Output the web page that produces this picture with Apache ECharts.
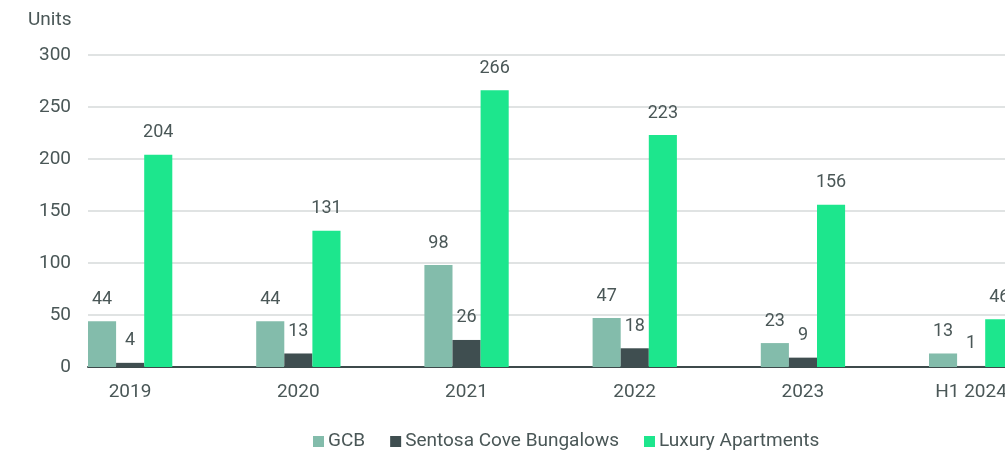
<!DOCTYPE html>
<html>
<head>
<meta charset="utf-8">
<script src="https://cdn.jsdelivr.net/npm/echarts@6/dist/echarts.min.js"></script>
<style>
html,body{margin:0;padding:0;background:#fff;}
#chart{width:1005px;height:452px;}
</style>
</head>
<body>
<div id="chart"></div>
<script>
const categories = ['2019', '2020', '2021', '2022', '2023', 'H1 2024'];
const gcb = [44, 44, 98, 47, 23, 13];
const sentosa = [4, 13, 26, 18, 9, 1];
const luxury = [204, 131, 266, 223, 156, 46];
const yTicks = [0, 50, 100, 150, 200, 250, 300];

const FONT = 'Roboto';
const TEXT = '#4a5757';
const barW = 28.1;
const bandW = 168.2;

const labelCfg = {show: true, position: 'top', distance: 13, color: TEXT, fontSize: 18, fontFamily: FONT};

const chart = echarts.init(document.getElementById('chart'), null, {renderer: 'canvas'});
chart.setOption({
  animation: false,
  textStyle: {fontFamily: FONT},
  title: {text: 'Units', left: 28, top: 11, padding: 0,
    textStyle: {color: TEXT, fontSize: 19, fontWeight: 'normal', fontFamily: FONT}},
  legend: {
    data: ['GCB', 'Sentosa Cove Bungalows', 'Luxury Apartments'],
    left: 313, top: 432, padding: 0, itemGap: 25, itemWidth: 11, itemHeight: 11,
    icon: 'rect',
    textStyle: {color: TEXT, fontSize: 19, fontFamily: FONT, padding: [0, 0, 0, -1]}
  },
  grid: {left: 88, top: 55, width: bandW * categories.length, bottom: 85, outerBoundsMode: 'none'},
  xAxis: {
    type: 'category', data: categories,
    axisLine: {show: true, lineStyle: {color: '#3d4a4b', width: 2}},
    axisTick: {show: false},
    axisLabel: {
      interval: 0, margin: 16, color: TEXT, fontSize: 19, fontFamily: FONT,
      formatter: v => '{a|' + v + '}',
      rich: {a: {color: TEXT, fontSize: 19, fontFamily: FONT, padding: [0, bandW / 2, 0, 0]}}
    }
  },
  yAxis: {
    type: 'value', min: 0, max: 300, interval: 50,
    axisLine: {show: false}, axisTick: {show: false},
    axisLabel: {margin: 17, color: TEXT, fontSize: 19, fontFamily: FONT,
      formatter: v => yTicks.includes(v) ? String(v) : ''},
    splitLine: {lineStyle: {color: '#d6dada', width: 1.5}}
  },
  series: [
    {name: 'GCB', type: 'bar', data: gcb, barWidth: barW, barGap: '0%', barCategoryGap: '0%',
      itemStyle: {color: '#83bcab'}, label: labelCfg},
    {name: 'Sentosa Cove Bungalows', type: 'bar', data: sentosa, barWidth: barW, barGap: '0%', barCategoryGap: '0%',
      itemStyle: {color: '#3f4e50'}, label: labelCfg},
    {name: 'Luxury Apartments', type: 'bar', data: luxury, barWidth: barW, barGap: '0%', barCategoryGap: '0%',
      itemStyle: {color: '#1de68d'}, label: labelCfg},
    {name: 'pad', type: 'bar', data: [], barWidth: bandW - 3 * barW, barGap: '0%', barCategoryGap: '0%',
      silent: true, itemStyle: {color: 'transparent'}}
  ]
});
</script>
</body>
</html>
